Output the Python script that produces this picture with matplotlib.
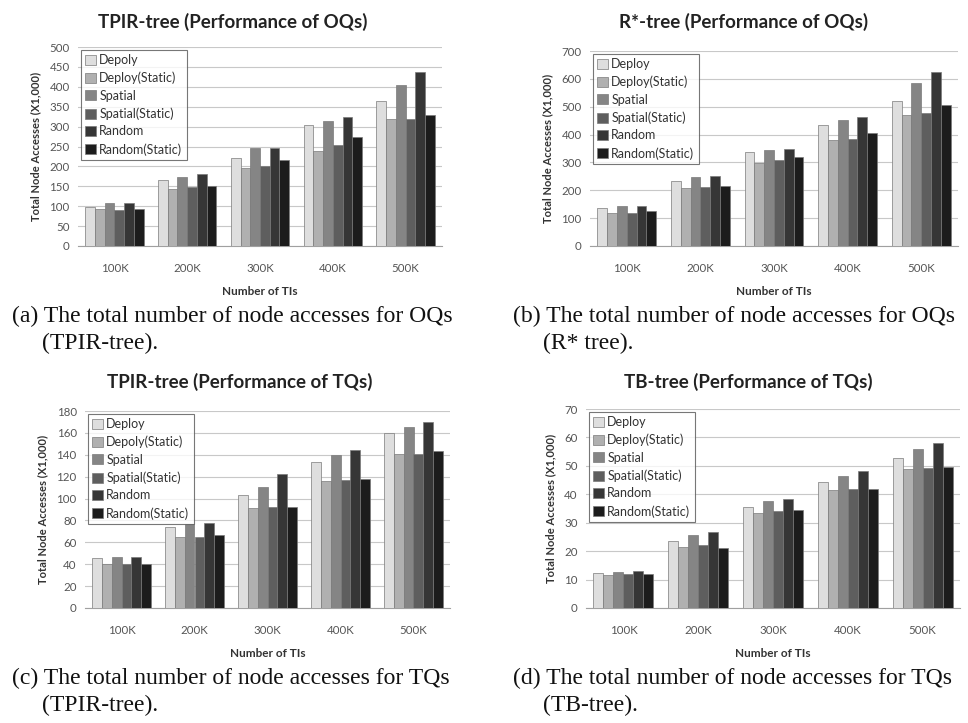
import matplotlib
matplotlib.use("Agg")
import matplotlib.pyplot as plt
import numpy as np

categories = ["100K", "200K", "300K", "400K", "500K"]
colors = ["#dedede", "#b0b0b0", "#858585", "#5e5e5e", "#363636", "#1c1c1c"]

# Panel (a) TPIR-tree OQs
a_labels = ["Depoly", "Deploy(Static)", "Spatial", "Spatial(Static)", "Random", "Random(Static)"]
a_deploy = [97, 167, 221, 305, 365]
a_deploy_s = [93, 144, 196, 239, 320]
a_spatial = [108, 173, 245, 313, 405]
a_spatial_s = [90, 147, 200, 255, 320]
a_random = [109, 181, 246, 324, 437]
a_random_s = [92, 151, 216, 274, 328]

# Panel (b) R*-tree OQs
b_labels = ["Deploy", "Deploy(Static)", "Spatial", "Spatial(Static)", "Random", "Random(Static)"]
b_deploy = [135, 233, 338, 435, 520]
b_deploy_s = [118, 210, 298, 380, 470]
b_spatial = [142, 247, 345, 453, 585]
b_spatial_s = [120, 211, 308, 385, 478]
b_random = [145, 250, 347, 463, 625]
b_random_s = [125, 217, 318, 406, 507]

# Panel (c) TPIR-tree TQs
c_labels = ["Deploy", "Depoly(Static)", "Spatial", "Spatial(Static)", "Random", "Random(Static)"]
c_deploy = [46, 74, 103, 133, 160]
c_deploy_s = [40, 65, 91, 116, 141]
c_spatial = [47, 77, 111, 140, 165]
c_spatial_s = [40, 65, 92, 117, 141]
c_random = [47, 78, 122, 144, 170]
c_random_s = [40, 67, 92, 118, 143]

# Panel (d) TB-tree TQs
d_labels = ["Deploy", "Deploy(Static)", "Spatial", "Spatial(Static)", "Random", "Random(Static)"]
d_deploy = [12.3, 23.5, 35.5, 44.3, 52.9]
d_deploy_s = [11.5, 21.5, 33.5, 41.4, 48.8]
d_spatial = [12.6, 25.8, 37.5, 46.5, 55.9]
d_spatial_s = [12.0, 22.0, 34.2, 42.0, 49.2]
d_random = [13.1, 26.8, 38.5, 48.1, 58.1]
d_random_s = [12.1, 21.0, 34.5, 42.0, 49.7]

W, H = 968, 723
fig = plt.figure(figsize=(W / 100, H / 100), dpi=100)
fig.patch.set_facecolor("white")

CF = ["Lato", "DejaVu Sans"]

def px_axes(x0, y0, x1, y1):
    return fig.add_axes([x0 / W, 1 - y1 / H, (x1 - x0) / W, (y1 - y0) / H])

def panel(box, title, labels, series, ymax, ystep, title_x, title_y):
    ax = px_axes(*box)
    x = np.arange(len(categories))
    n = len(series)
    bw = 0.8 / n
    for i, (vals, lab) in enumerate(zip(series, labels)):
        ax.bar(x - 0.4 + bw * (i + 0.5), vals, width=bw, color=colors[i],
               edgecolor="#7a7a7a", linewidth=0.5, label=lab, zorder=3)
    ax.set_xlim(-0.5, len(categories) - 0.5)
    ax.set_ylim(0, ymax)
    ax.set_yticks(np.arange(0, ymax + ystep / 2, ystep))
    ax.set_xticks(x)
    ax.set_xticklabels(categories)
    ax.grid(axis="y", color="#c8c8c8", linewidth=0.8, zorder=0)
    for s in ["top", "right", "left"]:
        ax.spines[s].set_visible(False)
    ax.spines["bottom"].set_color("#a0a0a0")
    ax.tick_params(axis="both", length=0, labelsize=8.3, labelcolor="#555555", pad=6)
    ax.tick_params(axis="x", pad=12)
    for t in ax.get_xticklabels() + ax.get_yticklabels():
        t.set_family(CF)
    ax.set_xlabel("Number of TIs", fontsize=8.5, fontweight="bold", color="#333333",
                  family=CF, labelpad=9)
    ax.set_ylabel("Total Node Accesses (X1,000)", fontsize=8, fontweight="bold",
                  color="#333333", family=CF, labelpad=6)
    leg = ax.legend(loc="upper left", bbox_to_anchor=(0.0, 1.0),
                    frameon=True, fancybox=False, handlelength=0.85, handleheight=0.85,
                    handletextpad=0.3, labelspacing=0.45, borderpad=0.35,
                    borderaxespad=0.2, prop={"family": CF, "size": 9})
    leg.get_frame().set_edgecolor("#555555")
    leg.get_frame().set_linewidth(0.8)
    for t in leg.get_texts():
        t.set_color("#333333")
    fig.text(title_x / W, 1 - title_y / H, title, ha="center", va="center",
             fontsize=13.5, fontweight="bold", color="#222222", family=CF)
    return ax

panel((78, 47, 442, 246), "TPIR-tree (Performance of OQs)", a_labels,
      [a_deploy, a_deploy_s, a_spatial, a_spatial_s, a_random, a_random_s], 500, 50, 233, 22)
panel((590, 51, 958, 246), "R*-tree (Performance of OQs)", b_labels,
      [b_deploy, b_deploy_s, b_spatial, b_spatial_s, b_random, b_random_s], 700, 100, 744, 22)
panel((85, 411, 450, 608), "TPIR-tree (Performance of TQs)", c_labels,
      [c_deploy, c_deploy_s, c_spatial, c_spatial_s, c_random, c_random_s], 180, 20, 240, 382)
panel((586, 409, 960, 608), "TB-tree (Performance of TQs)", d_labels,
      [d_deploy, d_deploy_s, d_spatial, d_spatial_s, d_random, d_random_s], 70, 10, 748, 382)

SF = ["Liberation Serif", "DejaVu Serif"]
def caption(x, y, line1, line2):
    fig.text(x / W, 1 - y / H, line1, ha="left", va="center", fontsize=17, family=SF, color="#111111")
    fig.text((x + 30) / W, 1 - (y + 27) / H, line2, ha="left", va="center", fontsize=17, family=SF, color="#111111")

caption(12, 316, "(a) The total number of node accesses for OQs", "(TPIR-tree).")
caption(513, 316, "(b) The total number of node accesses for OQs", "(R* tree).")
caption(12, 678, "(c) The total number of node accesses for TQs", "(TPIR-tree).")
caption(513, 678, "(d) The total number of node accesses for TQs", "(TB-tree).")

fig.savefig("out.png", dpi=100, facecolor="white")
